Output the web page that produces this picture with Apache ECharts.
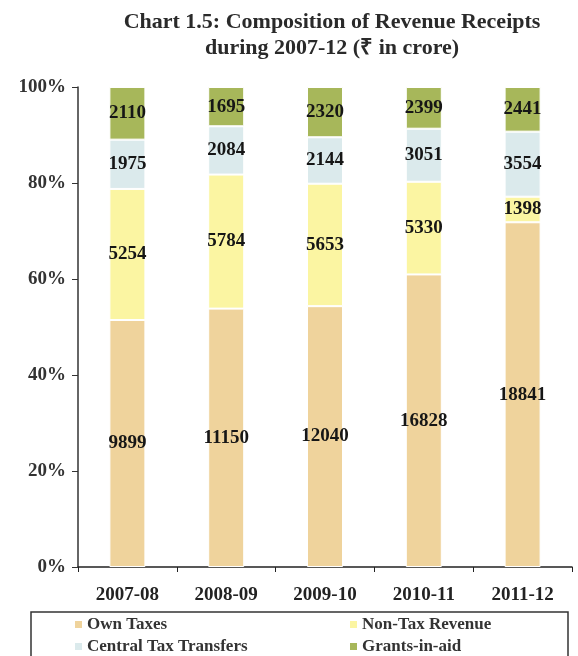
<!DOCTYPE html>
<html><head><meta charset="utf-8">
<script src="https://cdn.jsdelivr.net/npm/echarts@6/dist/echarts.min.js"></script>
<style>html,body{margin:0;padding:0;background:#fff}#c{width:578px;height:656px}</style>
</head><body><div id="c"></div>
<script>
const years = ['2007-08','2008-09','2009-10','2010-11','2011-12'];
const ownTaxes = [9899, 11150, 12040, 16828, 18841];
const nonTax = [5254, 5784, 5653, 5330, 1398];
const centralTransfers = [1975, 2084, 2144, 3051, 3554];
const grants = [2110, 1695, 2320, 2399, 2441];
const yTicks = [0, 20, 40, 60, 80, 100];

const names = ['Own Taxes','Non-Tax Revenue','Central Tax Transfers','Grants-in-aid'];
const colors = ['#efd39c','#fbf5a2','#dbeaec','#a7b75a'];
const raw = [ownTaxes, nonTax, centralTransfers, grants];
const totals = years.map((_, i) => raw.reduce((s, a) => s + a[i], 0));
const font = 'Liberation Serif';

const series = raw.map((arr, k) => ({
  name: names[k], type: 'bar', stack: 'total', barWidth: 36,
  data: arr.map((v, i) => ({ value: v / totals[i] * 100, raw: v })),
  itemStyle: { color: colors[k], borderColor: '#fff', borderWidth: 1 },
  label: { show: true, position: 'inside', fontFamily: font, fontWeight: 'bold', fontSize: 19, color: '#161616',
    formatter: p => String(p.data.raw) },
  emphasis: { disabled: true }
}));

const legendText = { fontFamily: font, fontWeight: 'bold', fontSize: 17, color: '#333' };
const chart = echarts.init(document.getElementById('c'), null, { renderer: 'canvas' });
chart.setOption({
  animation: false,
  title: {
    text: 'Chart 1.5: Composition of Revenue Receipts\nduring 2007-12 (₹ in crore)',
    left: 327, top: 4, textAlign: 'center',
    textStyle: { fontFamily: font, fontWeight: 'bold', fontSize: 22, color: '#2a2a2a', lineHeight: 26 }
  },
  grid: { left: 78, right: 6, top: 87, bottom: 89, containLabel: false },
  xAxis: {
    type: 'category', data: years,
    axisLine: { lineStyle: { color: '#222', width: 1.5 } },
    axisTick: { show: true, length: 5, alignWithLabel: false, lineStyle: { color: '#222' } },
    axisLabel: { fontFamily: font, fontWeight: 'bold', fontSize: 19, color: '#222', margin: 19 }
  },
  yAxis: {
    type: 'value', min: 0, max: 100, interval: 20,
    axisLine: { show: true, lineStyle: { color: '#333', width: 1.5 } },
    axisTick: { show: true, length: 6, lineStyle: { color: '#333' } },
    splitLine: { show: false },
    axisLabel: { fontFamily: font, fontWeight: 'bold', fontSize: 19, color: '#333', margin: 12,
      formatter: v => yTicks.includes(v) ? v + '%' : '' }
  },
  legend: [
    { data: [names[0], names[2]], orient: 'vertical', left: 75, top: 616, padding: 0, height: 60,
      itemWidth: 7, itemHeight: 7, itemGap: 5, itemStyle: { borderWidth: 0 },
      icon: 'rect', textStyle: legendText },
    { data: [names[1], names[3]], orient: 'vertical', left: 350, top: 616, padding: 0, height: 60,
      itemWidth: 7, itemHeight: 7, itemGap: 5, itemStyle: { borderWidth: 0 },
      icon: 'rect', textStyle: legendText }
  ],
  graphic: [{ type: 'rect', shape: { x: 31, y: 612, width: 537, height: 60 },
    style: { fill: 'none', stroke: '#333', lineWidth: 1.5 }, silent: true, z: -1 }],
  series
});
</script></body></html>
